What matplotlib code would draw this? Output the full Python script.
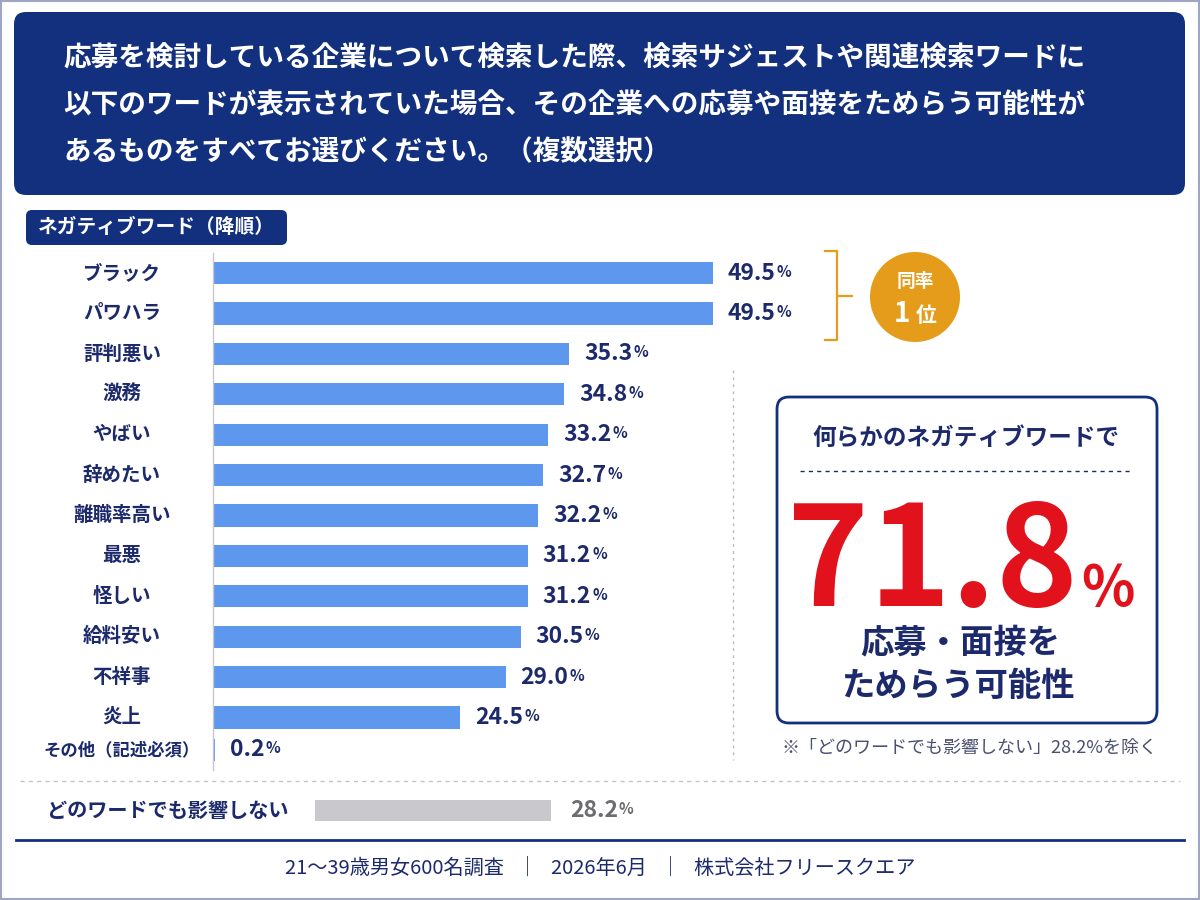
import numpy as np
import matplotlib
matplotlib.use("Agg")
import matplotlib.pyplot as plt
from matplotlib.patches import FancyBboxPatch, Circle, Rectangle

plt.rcParams['font.family'] = ['Noto Sans CJK JP', 'DejaVu Sans']

# =========================
# DATA
# =========================
title_lines = [
    "応募を検討している企業について検索した際、検索サジェストや関連検索ワードに",
    "以下のワードが表示されていた場合、その企業への応募や面接をためらう可能性が",
    "あるものをすべてお選びください。（複数選択）",
]
tag_label = "ネガティブワード（降順）"
categories = ["ブラック", "パワハラ", "評判悪い", "激務", "やばい", "辞めたい", "離職率高い",
              "最悪", "怪しい", "給料安い", "不祥事", "炎上", "その他（記述必須）"]
values = [49.5, 49.5, 35.3, 34.8, 33.2, 32.7, 32.2, 31.2, 31.2, 30.5, 29.0, 24.5, 0.2]
none_label = "どのワードでも影響しない"
none_value = 28.2
total_value = 71.8
box_head = "何らかのネガティブワードで"
box_foot = ["応募・面接を", "ためらう可能性"]
note = "※「どのワードでも影響しない」28.2%を除く"
footer = "21～39歳男女600名調査   ｜   2026年6月   ｜   株式会社フリースクエア"

# colours
navy = '#12307e'
text_navy = '#1c2a6c'
bar_blue = '#5e98ee'
orange = '#e49c1a'
red = '#e1121c'
gray_bar = '#c9c8cd'

# =========================
# FIGURE + BACKGROUND LAYER (pixel coords)
# =========================
fig = plt.figure(figsize=(12, 9), dpi=100)
bg = fig.add_axes([0, 0, 1, 1], zorder=0)
bg.set_xlim(0, 1200)
bg.set_ylim(900, 0)
bg.axis('off')

# outer frame
bg.add_patch(Rectangle((1, 1), 1198, 898, fill=False, ec='#9ea6c4', lw=1.5))

# title box
bg.add_patch(FancyBboxPatch((14, 12), 1171, 183, boxstyle='round,pad=0,rounding_size=12',
                            fc=navy, ec='none'))
for i, line in enumerate(title_lines):
    bg.text(63, 59 + i * 46.5, line, color='white', fontsize=19.9, fontweight='bold',
            ha='left', va='center')

# tag
bg.add_patch(FancyBboxPatch((26, 210), 261, 35, boxstyle='round,pad=0,rounding_size=6',
                            fc=navy, ec='none'))
bg.text(156, 227, tag_label, color='white', fontsize=14.2, fontweight='bold',
        ha='center', va='center')

# =========================
# BAR CHART
# =========================
y = np.arange(len(categories), dtype=float)
y[-1] = 11.8
ax = fig.add_axes([213 / 1200, 1 - 770 / 900, 555 / 1200, 517 / 900], zorder=2)
ax.patch.set_alpha(0)
ax.barh(y, values, height=0.55, color=bar_blue)
ax.set_xlim(0, 55)
ax.set_ylim(12.3, -0.5)
for s in ['top', 'right', 'bottom']:
    ax.spines[s].set_visible(False)
ax.spines['left'].set_color('#c8c8cc')
ax.spines['left'].set_linewidth(1)
ax.set_xticks([])
ax.set_yticks([])

for yi, cat, v in zip(y, categories, values):
    fs = 12.5 if cat.startswith("その他") else 14
    ax.annotate(cat, xy=(0, yi), xytext=(-91, 0), textcoords='offset pixels',
                ha='center', va='center', fontsize=fs, fontweight='bold', color=text_navy)
    t = ax.annotate(f"{v:.1f}", xy=(v, yi), xytext=(15, 0), textcoords='offset pixels',
                    ha='left', va='center', fontsize=16.5, fontweight='bold', color=text_navy)
    ax.annotate("%", xy=(1, 0.22), xycoords=t, xytext=(1, 0), textcoords='offset pixels',
                ha='left', va='bottom', fontsize=11, fontweight='bold', color=text_navy)

# bracket + badge
bg.plot([825, 837, 837, 825], [251, 251, 340, 340], color=orange, lw=1.6)
bg.plot([837, 852], [296, 296], color=orange, lw=1.6)
bg.add_patch(Circle((915, 297), 45, fc=orange, ec='none'))
bg.text(915, 281, "同率", color='white', fontsize=13.5, fontweight='bold', ha='center', va='center')
bg.text(902, 314, "1", color='white', fontsize=20, fontweight='bold', ha='center', va='center')
bg.text(926, 315, "位", color='white', fontsize=15, fontweight='bold', ha='center', va='center')

# dotted divider
bg.plot([733, 733], [370, 760], color='#b8bcc8', lw=1, ls=(0, (2, 3)))

# summary box
bg.add_patch(FancyBboxPatch((777, 397), 380, 326, boxstyle='round,pad=0,rounding_size=12',
                            fc='white', ec=navy, lw=2))
bg.text(966, 438, box_head, color=text_navy, fontsize=17, fontweight='bold',
        ha='center', va='center')
bg.plot([800, 1133], [471, 471], color=text_navy, lw=1, ls=(0, (3, 3)))
bg.text(1078, 606, f"{total_value:.1f}", color=red, fontsize=100, fontweight='bold',
        ha='right', va='baseline')
bg.text(1081, 605, "%", color=red, fontsize=40, fontweight='bold', ha='left', va='baseline')
bg.text(960, 643, box_foot[0], color=text_navy, fontsize=24, fontweight='bold',
        ha='center', va='center')
bg.text(958, 686, box_foot[1], color=text_navy, fontsize=24, fontweight='bold',
        ha='center', va='center')
bg.text(969, 748, note, color='#4a5070', fontsize=13, ha='center', va='center')

# dashed separator
bg.plot([20, 1180], [781, 781], color='#c4c4c8', lw=1, ls=(0, (3, 3)))

# "none" row
bg.text(168, 810, none_label, color=text_navy, fontsize=14.5, fontweight='bold',
        ha='center', va='center')
ax2 = fig.add_axes([315 / 1200, 1 - 822 / 900, 460 / 1200, 23 / 900], zorder=2)
ax2.patch.set_alpha(0)
ax2.barh([0], [none_value], height=0.9, color=gray_bar)
ax2.set_xlim(0, 55)
ax2.set_ylim(-0.5, 0.5)
ax2.axis('off')
t2 = ax2.annotate(f"{none_value:.1f}", xy=(none_value, 0), xytext=(19, 0),
                  textcoords='offset pixels', ha='left', va='center',
                  fontsize=16.5, fontweight='bold', color='#6b6b70')
ax2.annotate("%", xy=(1, 0.22), xycoords=t2, xytext=(1, 0), textcoords='offset pixels',
             ha='left', va='bottom', fontsize=11, fontweight='bold', color='#6b6b70')

# bottom rule + footer
bg.plot([16, 1184], [840, 840], color=navy, lw=2)
bg.text(600, 868, footer, color=text_navy, fontsize=14.5, ha='center', va='center')

fig.savefig("out.png", dpi=100)
